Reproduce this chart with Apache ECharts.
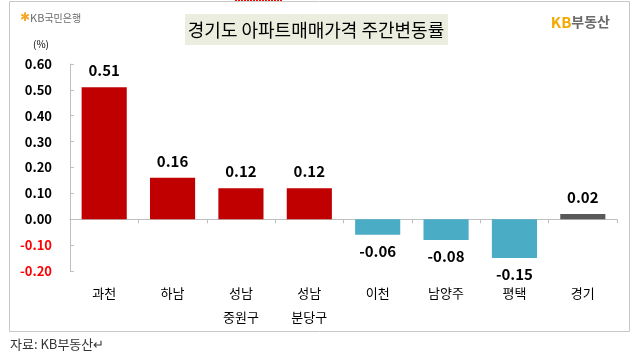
<!DOCTYPE html>
<html><head><meta charset="utf-8">
<script src="https://cdn.jsdelivr.net/npm/echarts@6/dist/echarts.min.js"></script>
<style>html,body{margin:0;padding:0;background:#fff}#c{width:637px;height:357px}</style>
</head><body><div id="c"></div>
<script>
const categories = ['과천', '하남', '성남\n중원구', '성남\n분당구', '이천', '남양주', '평택', '경기'];
const values = [0.51, 0.16, 0.12, 0.12, -0.06, -0.08, -0.15, 0.02];
const barColors = ['#C00000', '#C00000', '#C00000', '#C00000', '#4BACC6', '#4BACC6', '#4BACC6', '#595959'];
const yTicks = { min: -0.2, max: 0.6, interval: 0.1 };
const title = '경기도 아파트매매가격 주간변동률';
const source = '자료: KB부동산↵';

const font = '"Noto Sans CJK KR", "Noto Sans", sans-serif';
const chart = echarts.init(document.getElementById('c'), null, { renderer: 'canvas' });
chart.setOption({
  animation: false,
  backgroundColor: '#fff',
  grid: { left: 70, right: 20, top: 64, bottom: 86, containLabel: false },
  xAxis: [
    {
      type: 'category', data: categories, position: 'bottom',
      axisLine: { show: false, onZero: false }, axisTick: { show: false },
      axisLabel: { fontFamily: font, fontSize: 13, color: '#000', lineHeight: 24, margin: 10, interval: 0 }
    },
    {
      type: 'category', data: categories, position: 'top',
      axisLine: { show: true, onZero: true, lineStyle: { color: '#BFBFBF', width: 1 } },
      axisTick: { show: true, inside: true, length: 4, lineStyle: { color: '#BFBFBF' } },
      axisLabel: { show: false }
    }
  ],
  yAxis: {
    type: 'value', min: yTicks.min, max: yTicks.max, interval: yTicks.interval,
    axisLine: { show: true, lineStyle: { color: '#BFBFBF' } },
    axisTick: { show: true, inside: true, length: 4, lineStyle: { color: '#BFBFBF' } },
    splitLine: { show: false },
    axisLabel: {
      margin: 18, fontFamily: font, fontSize: 13, fontWeight: 'bold',
      formatter: v => v.toFixed(2),
      color: v => (parseFloat(v) < 0 ? '#FF0000' : '#000')
    }
  },
  series: [{
    type: 'bar', xAxisIndex: 0, barWidth: '66%',
    data: values.map((v, i) => ({ value: v, itemStyle: { color: barColors[i] },
      label: { position: v < 0 ? 'bottom' : 'top' } })),
    label: {
      show: true, distance: 9, fontFamily: font, fontSize: 15, fontWeight: 'bold', color: '#000',
      formatter: p => p.value.toFixed(2)
    }
  }],
  graphic: [
    { type: 'rect', shape: { x: 9.5, y: 1.5, width: 620, height: 330 }, style: { fill: 'none', stroke: '#C8C8C8', lineWidth: 1 }, z: -1 },
    { type: 'line', shape: { x1: 235, y1: 0.5, x2: 283, y2: 0.5 }, style: { stroke: '#FF0000', lineDash: [2, 1], lineWidth: 1 } },
    { type: 'rect', shape: { x: 185, y: 14, width: 263, height: 31 }, style: { fill: '#EBEEDE' } },
    { type: 'text', x: 316, y: 30, style: { text: title, font: '18px ' + font, fill: '#000', textAlign: 'center', textVerticalAlign: 'middle' } },
    { type: 'text', x: 20, y: 18, style: { text: '{s|✱}{k|KB}{g|국민은행}', textVerticalAlign: 'middle',
      rich: { s: { fontSize: 12, fill: '#F5A623', fontFamily: 'DejaVu Sans' }, k: { fontSize: 11, fill: '#6B6B6B', fontFamily: font }, g: { fontSize: 10, fill: '#6B6B6B', fontFamily: font } } } },
    { type: 'text', x: 610, y: 22, style: { text: '{k|KB}{g|부동산}', textAlign: 'right', textVerticalAlign: 'middle',
      rich: { k: { fontSize: 15, fill: '#F2A900', fontWeight: 'bold', fontFamily: font }, g: { fontSize: 14, fill: '#6B6B6B', fontWeight: 'bold', fontFamily: font } } } },
    { type: 'text', x: 41, y: 44, style: { text: '(%)', font: '10px ' + font, fill: '#000', textAlign: 'center', textVerticalAlign: 'middle' } },
    { type: 'text', x: 10, y: 344, style: { text: source, font: '13px ' + font, fill: '#333', textVerticalAlign: 'middle' } }
  ]
});
</script></body></html>
